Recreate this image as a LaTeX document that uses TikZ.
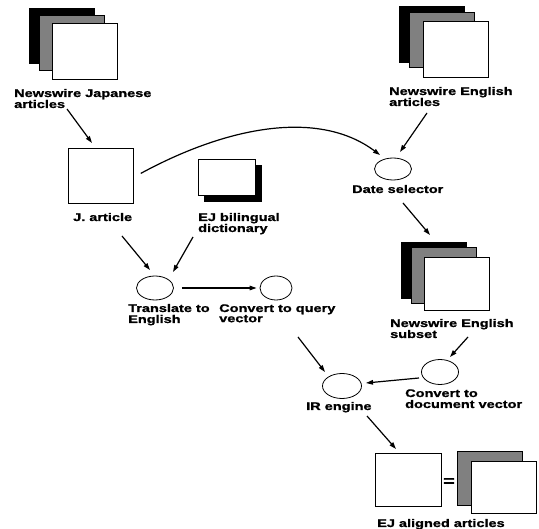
\documentclass[tikz,border=0pt]{standalone}
\usepackage{fontspec}
\newfontfamily\labfont{Liberation Sans}[FakeStretch=1.32,BoldFeatures={FakeBold=1.2}]
\usetikzlibrary{arrows.meta,shapes.geometric,calc}

% two-line captions whose first baseline is the node's baseline
\newcommand\lbltext[1]{\begin{tabular}[t]{@{}l@{}}#1\end{tabular}}

\tikzset{
  sheet/.style={draw, line width=0.8pt, rectangle, inner sep=0pt, anchor=north west,
                minimum width=65pt, minimum height=55pt},
  frontsheet/.style={sheet, fill=white},
  backsheet/.style={sheet, fill=black},
  midsheet/.style={sheet, fill=black!50},
  proc/.style={draw, line width=0.8pt, ellipse, inner sep=0pt},
  lbl/.style={anchor=base west, inner sep=0pt,
              font=\labfont\bfseries\fontsize{11}{10}\selectfont},
  arr/.style={line width=1.2pt, -{Triangle[length=7pt,width=4.5pt]}},
}

\begin{document}
\begin{tikzpicture}[x=1pt,y=-1pt]
\useasboundingbox (0,0) rectangle (539,529);

% ---- Japanese newswire stack
\node[backsheet] (jpback) at (29,8) {};
\node[midsheet]  (jpmid)  at (39,15) {};
\node[frontsheet,minimum height=56pt] (jpfront) at (52,23) {};
\node[lbl] (jplab) at (14,97) {\lbltext{Newswire Japanese\\articles}};

% ---- English newswire stack
\node[backsheet,minimum height=56pt] (enback) at (399,6) {};
\node[midsheet]  (enmid)  at (409,12) {};
\node[frontsheet,minimum height=56pt] (enfront) at (423,21) {};
\node[lbl] (enlab) at (389,95) {\lbltext{Newswire English\\articles}};

% ---- single Japanese article
\node[frontsheet] (jbox) at (68,148) {};
\node[lbl] (jlab) at (73,221) {J. article};

% ---- bilingual dictionary with drop shadow
\node[backsheet,minimum width=57pt,minimum height=36pt] (dictshadow) at (204,165) {};
\node[frontsheet,minimum width=57pt,minimum height=36pt] (dict) at (198,159) {};
\node[lbl] (dictlab) at (198,221) {\lbltext{EJ bilingual\\dictionary}};

% ---- date selector
\node[proc,minimum width=37pt,minimum height=22pt] (date) at (393,169) {};
\node[lbl] (datelab) at (352,193) {Date selector};

% ---- English subset stack
\node[backsheet,minimum height=56pt] (subback) at (401,242) {};
\node[midsheet,minimum height=56pt]  (submid)  at (411,247) {};
\node[frontsheet,minimum height=53pt] (subfront) at (424,257) {};
\node[lbl] (sublab) at (390,327) {\lbltext{Newswire English\\subset}};

% ---- translation and query building
\node[proc,minimum width=37pt,minimum height=24pt] (trans) at (155,288) {};
\node[lbl] (translab) at (128,312) {\lbltext{Translate to\\English}};
\node[proc,minimum width=32pt,minimum height=24pt] (query) at (276,288) {};
\node[lbl] (querylab) at (219,312) {\lbltext{Convert to query\\vector}};

% ---- document vectors and retrieval
\node[proc,minimum width=37pt,minimum height=25pt] (doc) at (440,372) {};
\node[lbl] (doclab) at (405,397) {\lbltext{Convert to\\document vector}};
\node[proc,minimum width=39pt,minimum height=25pt] (ir) at (342,386) {};
\node[lbl] (irlab) at (306,410) {IR engine};

% ---- aligned article pairs
\node[frontsheet,minimum width=66pt,minimum height=53pt] (alleft) at (375,453) {};
\node[font=\labfont\bfseries\fontsize{15}{15}\selectfont, inner sep=0pt] (eq) at (449,482) {=};
\node[midsheet,minimum height=54pt] (almid) at (457,451) {};
\node[frontsheet,minimum height=52pt] (alfront) at (471,461) {};
\node[lbl] (allab) at (377,527) {EJ aligned articles};

% ---- connectors
\draw[arr] ($(jplab.base west)+(53,12)$) -- ($(jbox.north west)+(24,-5)$);
\draw[arr] ($(enlab.base west)+(38,18)$) -- ($(date.center)+(7,-17)$);
\draw[arr] ($(jbox.east)+(7,-2.5)$) .. controls (230,125) and (320,110) .. ($(date.center)+(-13,-14)$);
\draw[arr] ($(datelab.base west)+(51,10)$) -- ($(subback.north west)+(29,-7)$);
\draw[arr] ($(jlab.base west)+(49,15)$) -- ($(trans.center)+(-5,-18)$);
\draw[arr] ($(dictlab.base west)+(-5,16)$) -- ($(trans.center)+(18,-16)$);
\draw[arr, shorten <=8pt, shorten >=3pt] (trans) -- (query);
\draw[arr] ($(querylab.base west)+(79,25)$) -- ($(ir.center)+(-17,-14)$);
\draw[arr] ($(sublab.base west)+(78,10)$) -- ($(doc.center)+(10,-15)$);
\draw[arr] ($(doc.center)+(-21,6)$) -- ($(ir.center)+(24,-3)$);
\draw[arr] ($(irlab.base west)+(61,6)$) -- ($(alleft.north west)+(21,-4)$);
\end{tikzpicture}
\end{document}
